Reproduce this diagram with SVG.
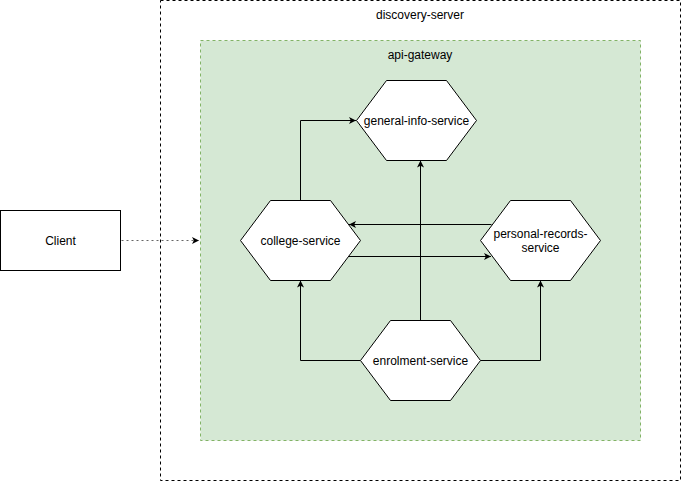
<svg xmlns="http://www.w3.org/2000/svg" width="681" height="481" viewBox="0 0 681 481">
<style>
text{font-family:"Liberation Sans",Arial,sans-serif;font-size:12px;fill:#000;text-anchor:middle}
.hex{fill:#fff;stroke:#000;stroke-width:1}
.edge{fill:none;stroke:#000;stroke-width:1}
</style>
<defs>
<marker id="arr" viewBox="0 0 8 8" refX="7" refY="4" markerWidth="8" markerHeight="8" markerUnits="userSpaceOnUse" orient="auto">
<path d="M0,0.5 L7,4 L0,7.5 L1.8,4 Z" fill="#000"/>
</marker>
</defs>
<rect width="681" height="481" fill="#fff"/>
<g id="discovery-server">
<rect x="160.5" y="0.5" width="520" height="480" fill="#fff" stroke="#000" stroke-dasharray="3 3"/>
<text x="420" y="19">discovery-server</text>
</g>
<g id="api-gateway">
<rect x="200.5" y="40.5" width="440" height="400" fill="#d5e8d4" stroke="#82b366" stroke-dasharray="3 3"/>
<text x="420" y="59">api-gateway</text>
</g>
<g id="client">
<rect x="0.5" y="210.5" width="120" height="60" fill="#fff" stroke="#000"/>
<text x="60.5" y="245">Client</text>
</g>
<g id="connectors">
<path class="edge" d="M121.5,240.5 L199,240.5" stroke-dasharray="2 3" style="stroke:#666" marker-end="url(#arr)"/>
<path class="edge" d="M300.5,200 L300.5,120.5 L356,120.5" marker-end="url(#arr)"/>
<path class="edge" d="M491.5,224.5 L349,224.5" marker-end="url(#arr)"/>
<path class="edge" d="M348.5,256.5 L491,256.5" marker-end="url(#arr)"/>
<path class="edge" d="M420.5,320 L420.5,160.5" marker-end="url(#arr)"/>
<path class="edge" d="M360.5,360.5 L300.5,360.5 L300.5,280.5" marker-end="url(#arr)"/>
<path class="edge" d="M480.5,360.5 L540.5,360.5 L540.5,280.5" marker-end="url(#arr)"/>
</g>
<g id="general-info-service">
<path class="hex" d="M386.5,80.5 L446.5,80.5 L476.5,120.5 L446.5,160.5 L386.5,160.5 L356.5,120.5 Z"/>
<text x="416.5" y="124.5">general-info-service</text>
</g>
<g id="college-service">
<path class="hex" d="M270.5,200.5 L330.5,200.5 L360.5,240.5 L330.5,280.5 L270.5,280.5 L240.5,240.5 Z"/>
<text x="300.5" y="244.5">college-service</text>
</g>
<g id="personal-records-service">
<path class="hex" d="M510.5,200.5 L570.5,200.5 L600.5,240.5 L570.5,280.5 L510.5,280.5 L480.5,240.5 Z"/>
<text x="540.5" y="238">personal-records-</text>
<text x="540.5" y="252">service</text>
</g>
<g id="enrolment-service">
<path class="hex" d="M390.5,320.5 L450.5,320.5 L480.5,360.5 L450.5,400.5 L390.5,400.5 L360.5,360.5 Z"/>
<text x="420.5" y="364.5">enrolment-service</text>
</g>
</svg>
